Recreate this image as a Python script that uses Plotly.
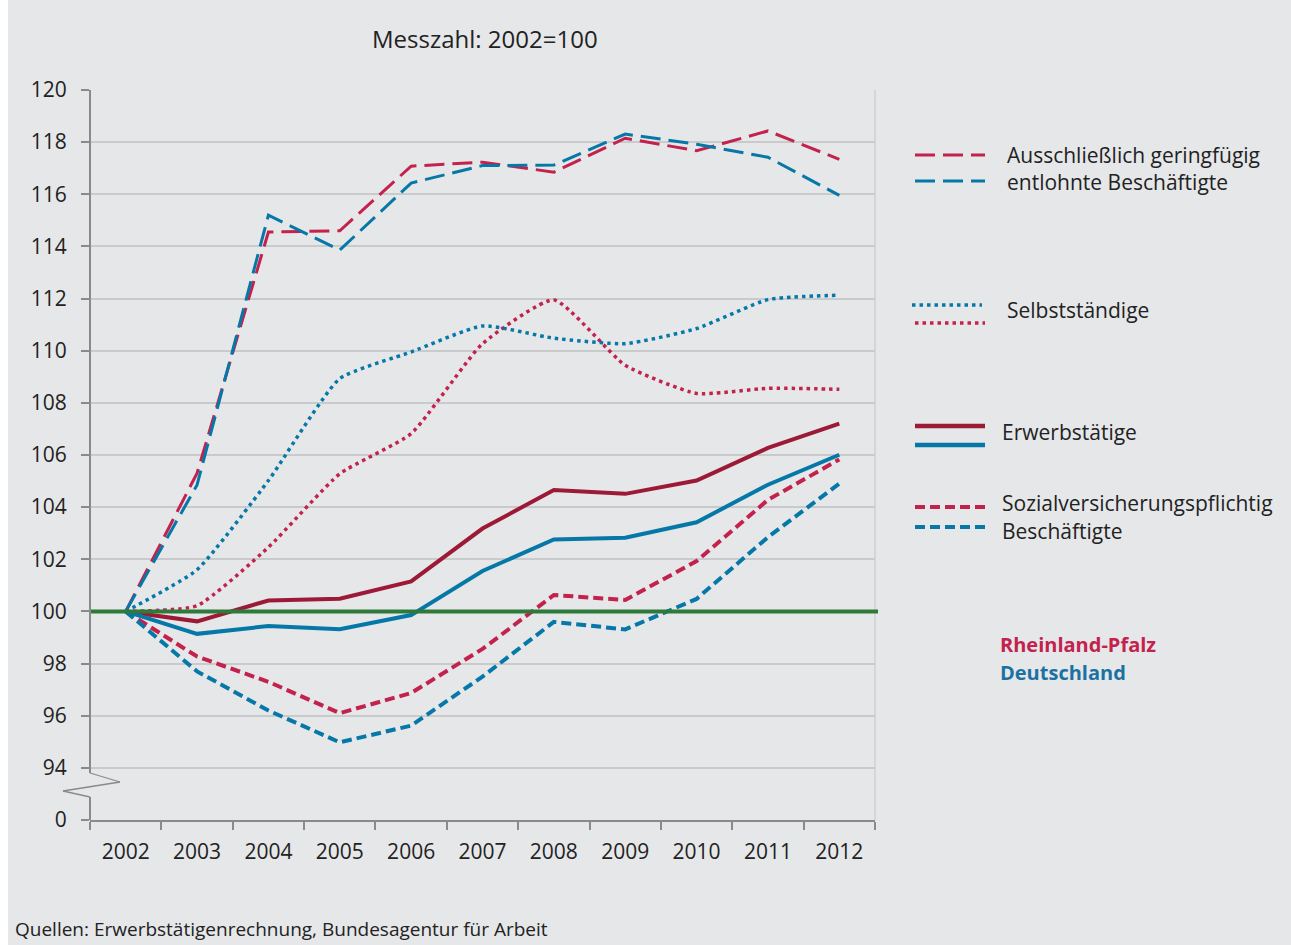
import plotly.graph_objects as go

years = ["2002", "2003", "2004", "2005", "2006", "2007", "2008", "2009", "2010", "2011", "2012"]

rp_gering = [100, 105.3, 114.55, 114.6, 117.08, 117.23, 116.85, 118.15, 117.67, 118.43, 117.34]
de_gering = [100, 104.85, 115.2, 113.86, 116.43, 117.1, 117.12, 118.31, 117.92, 117.42, 115.96]
rp_selb = [100, 100.22, 102.46, 105.28, 106.82, 110.27, 111.95, 109.44, 108.36, 108.56, 108.52]
de_selb = [100, 101.6, 105.02, 108.93, 109.95, 110.95, 110.48, 110.27, 110.85, 111.96, 112.13]
rp_erw = [100, 99.62, 100.42, 100.49, 101.15, 103.18, 104.66, 104.51, 105.02, 106.27, 107.2]
de_erw = [100, 99.14, 99.44, 99.32, 99.86, 101.55, 102.76, 102.83, 103.42, 104.86, 106.01]
rp_sv = [100, 98.27, 97.3, 96.1, 96.87, 98.56, 100.63, 100.44, 101.93, 104.28, 105.83]
de_sv = [100, 97.7, 96.2, 94.98, 95.62, 97.5, 99.6, 99.31, 100.48, 102.85, 104.9]

# axis break: the lowest tick position shows "0"
y_tickvals = [92, 94, 96, 98, 100, 102, 104, 106, 108, 110, 112, 114, 116, 118, 120]
y_ticktext = ["0", "94", "96", "98", "100", "102", "104", "106", "108", "110", "112", "114", "116", "118", "120"]

RED = "#c3224d"
DRED = "#9c1a36"
BLUE = "#0678a8"
GREEN = "#2e7a3a"
BG = "#e6e7e9"
GRID = "#c9cacc"
AX = "#8a8a8a"
FONT = "Open Sans"

OX = 8  # page offset on the left
W, H = 1291 - OX, 945
ML, MR, MT, MB = 90 - OX, 416, 90, 125
PW, PH = W - ML - MR, H - MT - MB


def px(x):
    return (x - OX - ML) / PW


def py(y):
    return (H - MB - y) / PH


fig = go.Figure()

series = [
    (rp_gering, RED, 3, "20px,8px", "linear"),
    (de_gering, BLUE, 3, "20px,8px", "linear"),
    (rp_selb, RED, 3.5, "3.5px,4px", "spline"),
    (de_selb, BLUE, 3.5, "3.5px,4px", "spline"),
    (rp_sv, RED, 4, "10px,5px", "linear"),
    (de_sv, BLUE, 4, "10px,5px", "linear"),
    (rp_erw, DRED, 4, "solid", "linear"),
    (de_erw, BLUE, 4, "solid", "linear"),
]
for vals, col, w, dash, shape in series:
    line = dict(color=col, width=w, dash=dash, shape=shape)
    if shape == "spline":
        line["smoothing"] = 0.5
    fig.add_trace(go.Scatter(x=years, y=vals, mode="lines", line=line,
                             showlegend=False, hoverinfo="skip"))

shapes = []
# reference line at 100
shapes.append(dict(type="line", xref="paper", yref="y", x0=0, x1=px(878), y0=100, y1=100,
                   line=dict(color=GREEN, width=4), layer="above"))
# right border of plot
shapes.append(dict(type="line", xref="paper", yref="paper", x0=1, x1=1, y0=0, y1=1,
                   line=dict(color="#cfd0d2", width=1.5), layer="below"))
# left axis with break
zig = [(90, 773), (120, 782), (63, 791), (90, 797)]
shapes.append(dict(type="line", xref="paper", yref="paper", x0=0, x1=0, y0=1, y1=py(773),
                   line=dict(color=AX, width=2)))
for (xa, ya), (xb, yb) in zip(zig[:-1], zig[1:]):
    shapes.append(dict(type="line", xref="paper", yref="paper", x0=px(xa), x1=px(xb), y0=py(ya), y1=py(yb),
                       line=dict(color=AX, width=1.3)))
shapes.append(dict(type="line", xref="paper", yref="paper", x0=0, x1=0, y0=py(797), y1=0,
                   line=dict(color=AX, width=2)))

# legend samples
leg = [
    (915, 985, 155, RED, 3, "20px,8px"),
    (915, 985, 181, BLUE, 3, "20px,8px"),
    (912, 982, 305, BLUE, 3.5, "3.5px,4px"),
    (915, 985, 323, RED, 3.5, "3.5px,4px"),
    (915, 985, 426, DRED, 4.5, "solid"),
    (915, 985, 445, BLUE, 4.5, "solid"),
    (915, 985, 507, RED, 4, "10px,5px"),
    (915, 985, 527, BLUE, 4, "10px,5px"),
]
for x0, x1, y, col, w, dash in leg:
    shapes.append(dict(type="line", xref="paper", yref="paper", x0=px(x0), x1=px(x1), y0=py(y), y1=py(y),
                       line=dict(color=col, width=w, dash=dash)))

anns = []


def txt(x, y, s, size=21, color="#222222", xanchor="left", bold=False):
    if bold:
        s = "<b>" + s + "</b>"
    anns.append(dict(x=px(x), y=py(y), xref="paper", yref="paper", text=s, showarrow=False,
                     xanchor=xanchor, yanchor="middle", font=dict(family=FONT, size=size, color=color)))


txt(485, 38, "Messzahl: 2002=100", size=24, xanchor="center")
txt(1005, 155, "Ausschließlich geringfügig")
txt(1005, 182, "entlohnte Beschäftigte")
txt(1005, 310, "Selbstständige")
txt(1000, 432, "Erwerbstätige")
txt(1000, 503, "Sozialversicherungspflichtig")
txt(1000, 531, "Beschäftigte")
txt(998, 644, "Rheinland-Pfalz", size=20, color="#c3224d", bold=True)
txt(998, 672, "Deutschland", size=20, color="#1a72a3", bold=True)
txt(13, 929, "Quellen: Erwerbstätigenrechnung, Bundesagentur für Arbeit", size=19)

fig.update_layout(
    width=W, height=H,
    margin=dict(l=ML, r=MR, t=MT, b=MB),
    paper_bgcolor=BG, plot_bgcolor=BG,
    font=dict(family=FONT, size=21, color="#222222"),
    shapes=shapes, annotations=anns,
    showlegend=False,
)
fig.update_xaxes(type="category", categoryorder="array", categoryarray=years,
                 range=[-0.5, 10.5], tickson="boundaries", ticks="outside", ticklen=8,
                 tickcolor=AX, tickwidth=1.5, showline=True, linecolor=AX, linewidth=2,
                 showgrid=False, tickfont=dict(family=FONT, size=21, color="#222222"),
                 ticklabelstandoff=12)
fig.update_yaxes(range=[92, 120], tickvals=y_tickvals, ticktext=y_ticktext,
                 ticks="outside", ticklen=8, tickcolor=AX, tickwidth=1.5,
                 showline=False, showgrid=True, gridcolor=GRID, gridwidth=1.5,
                 zeroline=False, tickfont=dict(family=FONT, size=21, color="#222222"),
                 ticklabelstandoff=10)

fig.write_html("out.html", post_script="document.body.style.margin='0px 0px 0px 8px';")
